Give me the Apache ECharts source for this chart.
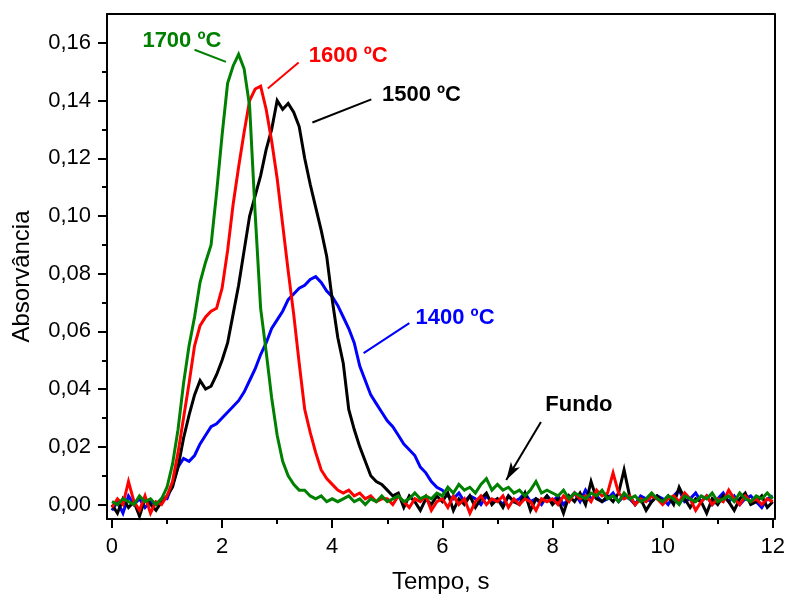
<!DOCTYPE html>
<html>
<head>
<meta charset="utf-8">
<script src="https://cdn.jsdelivr.net/npm/echarts@6/dist/echarts.min.js"></script>
<style>
html,body{margin:0;padding:0;background:#fff;}
#chart{width:788px;height:600px;}
</style>
</head>
<body>
<div id="chart"></div>
<script>
// sampling instants (s)
const times = [
 0.0,0.1,0.2,0.3,0.4,0.5,0.6,0.7,0.8,0.9,
 1.0,1.1,1.2,1.3,1.4,1.5,1.6,1.7,1.8,1.9,
 2.0,2.1,2.2,2.3,2.4,2.5,2.6,2.7,2.8,2.9,
 3.0,3.1,3.2,3.3,3.4,3.5,3.6,3.7,3.8,3.9,
 4.0,4.1,4.2,4.3,4.4,4.5,4.6,4.7,4.8,4.9,
 5.0,5.1,5.2,5.3,5.4,5.5,5.6,5.7,5.8,5.9,
 6.0,6.1,6.2,6.3,6.4,6.5,6.6,6.7,6.8,6.9,
 7.0,7.1,7.2,7.3,7.4,7.5,7.6,7.7,7.8,7.9,
 8.0,8.1,8.2,8.3,8.4,8.5,8.6,8.7,8.8,8.9,
 9.0,9.1,9.2,9.3,9.4,9.5,9.6,9.7,9.8,9.9,
 10.0,10.1,10.2,10.3,10.4,10.5,10.6,10.7,10.8,10.9,
 11.0,11.1,11.2,11.3,11.4,11.5,11.6,11.7,11.8,11.9,
 12.0
];

const abs1400 = [
 -0.002,0.001,-0.003,0.003,0.000,0.002,-0.001,0.001,0.000,0.002,
 0.002,0.007,0.013,0.016,0.015,0.017,0.021,0.024,0.027,0.028,
 0.030,0.032,0.034,0.036,0.039,0.043,0.047,0.052,0.056,0.061,
 0.064,0.067,0.071,0.073,0.075,0.076,0.078,0.079,0.077,0.074,
 0.072,0.069,0.065,0.061,0.056,0.048,0.043,0.038,0.035,0.032,
 0.029,0.027,0.024,0.021,0.019,0.017,0.013,0.011,0.008,0.006,
 0.005,0.003,0.002,0.004,0.001,0.003,0.002,0.000,0.003,0.001,
 0.002,0.000,0.003,0.001,0.002,0.004,0.001,0.002,0.000,0.003,
 0.001,0.003,0.000,0.002,0.004,0.001,0.005,0.002,0.003,0.001,
 0.002,0.004,0.001,0.003,0.002,0.000,0.003,0.002,0.001,0.003,
 0.002,0.000,0.003,0.005,0.001,0.002,0.004,0.001,0.003,0.000,
 0.002,0.004,0.001,0.003,0.000,0.002,0.003,0.001,-0.001,0.002,
 0.003
];

const abs1500 = [
 0.000,-0.003,0.002,-0.001,0.001,-0.004,0.002,0.000,-0.002,0.001,
 0.003,0.006,0.013,0.023,0.031,0.038,0.043,0.040,0.041,0.045,
 0.050,0.056,0.066,0.076,0.088,0.100,0.107,0.114,0.123,0.130,
 0.140,0.137,0.139,0.136,0.131,0.120,0.111,0.103,0.095,0.086,
 0.071,0.058,0.049,0.033,0.026,0.020,0.015,0.010,0.008,0.007,
 0.005,0.003,0.004,-0.001,0.003,0.001,-0.002,0.002,0.000,0.003,
 0.001,0.004,-0.002,0.002,0.000,0.003,-0.001,0.002,0.004,0.000,
 0.002,-0.001,0.003,0.001,0.000,0.004,-0.002,0.002,0.001,0.003,
 0.000,0.002,-0.003,0.003,0.001,0.004,0.000,0.008,0.002,0.001,
 0.003,0.001,0.004,0.012,0.003,0.000,0.002,-0.002,0.001,0.003,
 0.001,0.003,0.000,0.006,0.002,-0.001,0.002,0.001,-0.003,0.002,
 0.000,0.003,0.001,-0.002,0.002,0.004,0.000,0.001,0.003,-0.001,
 0.001
];

const abs1600 = [
 -0.001,0.002,0.000,0.008,0.001,-0.002,0.003,-0.003,0.001,0.000,
 0.003,0.008,0.018,0.030,0.042,0.055,0.062,0.065,0.067,0.068,
 0.075,0.088,0.104,0.117,0.129,0.140,0.144,0.145,0.137,0.126,
 0.113,0.097,0.081,0.066,0.049,0.033,0.025,0.018,0.012,0.009,
 0.007,0.005,0.004,0.005,0.003,0.004,0.002,0.003,0.001,0.002,
 0.002,0.000,0.003,0.001,-0.001,0.002,0.001,0.003,-0.002,0.001,
 0.002,-0.001,0.003,0.000,0.002,-0.003,0.001,0.003,0.000,0.002,
 0.001,0.003,-0.001,0.002,0.000,0.002,0.001,-0.002,0.002,0.001,
 0.002,0.000,0.003,0.001,0.004,0.002,0.003,0.001,0.005,0.003,
 0.004,0.011,0.004,0.002,0.003,0.000,0.002,0.001,0.003,0.002,
 0.000,0.002,0.003,0.001,0.004,0.002,-0.002,0.001,0.003,0.000,
 0.002,0.001,0.005,0.002,0.000,0.003,0.001,0.002,0.000,0.002,
 0.001
];

const abs1700 = [
 0.001,0.000,0.002,0.001,0.000,0.003,0.001,0.002,0.000,0.002,
 0.006,0.014,0.026,0.042,0.055,0.065,0.077,0.084,0.090,0.108,
 0.128,0.146,0.152,0.156,0.151,0.138,0.101,0.068,0.053,0.037,
 0.024,0.015,0.010,0.007,0.005,0.005,0.003,0.002,0.003,0.001,
 0.002,0.001,0.002,0.003,0.001,0.002,0.000,0.002,0.001,0.003,
 0.001,0.002,0.003,0.001,0.002,0.004,0.002,0.003,0.002,0.004,
 0.003,0.006,0.004,0.007,0.005,0.006,0.004,0.007,0.009,0.005,
 0.007,0.005,0.006,0.004,0.005,0.003,0.005,0.008,0.004,0.005,
 0.004,0.003,0.005,0.002,0.004,0.003,0.002,0.004,0.003,0.005,
 0.002,0.003,0.001,0.004,0.002,0.003,0.001,0.002,0.004,0.002,
 0.001,0.003,0.002,0.000,0.003,0.002,0.001,0.003,0.002,0.004,
 0.001,0.002,0.003,0.001,0.004,0.002,0.001,0.003,0.002,0.004,
 0.002
];

const xMajorTicks = [0, 2, 4, 6, 8, 10, 12];
const xMinorTicks = [1, 3, 5, 7, 9, 11];
const yMajorTicks = [0, 0.02, 0.04, 0.06, 0.08, 0.10, 0.12, 0.14, 0.16];
const yMinorTicks = [0.01, 0.03, 0.05, 0.07, 0.09, 0.11, 0.13, 0.15];

// annotations (data coordinates)
const annotTexts = ['1700 ºC', '1600 ºC', '1500 ºC', '1400 ºC', 'Fundo'];
const annotPos = [[1.27, 0.1605], [4.29, 0.1553], [5.62, 0.1421], [6.23, 0.0647], [8.48, 0.0344]];
const annotLeaders = [
  [[1.50, 0.1576], [2.07, 0.1534]],
  [[3.39, 0.1532], [2.83, 0.1442]],
  [[4.71, 0.1404], [3.64, 0.1324]],
  [[5.40, 0.0629], [4.57, 0.0525]],
  [[7.79, 0.0286], [7.16, 0.0085]]
];
const annotColors = ['#008000', '#ff0000', '#000000', '#0000ff', '#000000'];

const FONT = 'Liberation Sans, Arial, sans-serif';
const X_MIN = -0.09, X_MAX = 12.03, Y_MIN = -0.005, Y_MAX = 0.170;

function pairs(ys) { return times.map((t, i) => [t, ys[i]]); }

const curves = [
  { name: '1400', data: abs1400, color: '#0000ff' },
  { name: '1500', data: abs1500, color: '#000000' },
  { name: '1600', data: abs1600, color: '#ff0000' },
  { name: '1700', data: abs1700, color: '#008000' }
];

const series = curves.map(c => ({
  name: c.name,
  type: 'line',
  xAxisIndex: 0, yAxisIndex: 0,
  data: pairs(c.data),
  showSymbol: false,
  symbol: 'none',
  lineStyle: { color: c.color, width: 3, join: 'miter' },
  itemStyle: { color: c.color },
  z: 2
}));

annotTexts.forEach((txt, i) => {
  series.push({
    type: 'scatter',
    xAxisIndex: 0, yAxisIndex: 0,
    symbolSize: 0,
    silent: true,
    itemStyle: { color: annotColors[i], opacity: 1 },
    data: [annotPos[i]],
    label: {
      show: true, position: 'inside', formatter: txt,
      color: annotColors[i], textBorderWidth: 0, textBorderColor: 'transparent',
      fontFamily: FONT, fontWeight: 'bold', fontSize: 22
    },
    markLine: {
      silent: true,
      symbol: i === 4 ? ['none', 'arrow'] : ['none', 'none'],
      symbolSize: [8, 18],
      label: { show: false },
      lineStyle: { color: annotColors[i], width: 2, type: 'solid' },
      emphasis: { disabled: true },
      data: [[{ coord: annotLeaders[i][0] }, { coord: annotLeaders[i][1] }]]
    },
    z: 5
  });
});

const axisLineStyle = { lineStyle: { color: '#000', width: 2 } };

const option = {
  animation: false,
  backgroundColor: '#fff',
  grid: { left: 107, top: 14, right: 12, bottom: 81, containLabel: false },
  xAxis: [
    {
      type: 'value', position: 'bottom', min: X_MIN, max: X_MAX,
      axisLine: { show: true, onZero: false, ...axisLineStyle },
      axisTick: { show: true, customValues: xMajorTicks, length: 9, lineStyle: { color: '#000', width: 2 } },
      axisLabel: { show: true, customValues: xMajorTicks, margin: 17, color: '#000', fontFamily: FONT, fontSize: 22,
        formatter: v => String(Math.round(v)) },
      splitLine: { show: false },
      name: 'Tempo, s', nameLocation: 'middle', nameGap: 51,
      nameTextStyle: { color: '#000', fontFamily: FONT, fontSize: 24 }
    },
    {
      type: 'value', position: 'bottom', min: X_MIN, max: X_MAX,
      axisLine: { show: false, onZero: false },
      axisTick: { show: true, customValues: xMinorTicks, length: 5, lineStyle: { color: '#000', width: 2 } },
      axisLabel: { show: false },
      splitLine: { show: false }
    },
    {
      type: 'value', position: 'top', min: X_MIN, max: X_MAX,
      axisLine: { show: true, onZero: false, ...axisLineStyle },
      axisTick: { show: false }, axisLabel: { show: false }, splitLine: { show: false }
    }
  ],
  yAxis: [
    {
      type: 'value', position: 'left', min: Y_MIN, max: Y_MAX,
      axisLine: { show: true, onZero: false, ...axisLineStyle },
      axisTick: { show: true, customValues: yMajorTicks, length: 9, lineStyle: { color: '#000', width: 2 } },
      axisLabel: { show: true, customValues: yMajorTicks, margin: 16, color: '#000', fontFamily: FONT, fontSize: 22,
        formatter: v => v.toFixed(2).replace('.', ',') },
      splitLine: { show: false },
      name: 'Absorvância', nameLocation: 'middle', nameGap: 73, nameRotate: 90,
      nameTextStyle: { color: '#000', fontFamily: FONT, fontSize: 24, padding: [0, 20, 0, 0] }
    },
    {
      type: 'value', position: 'left', min: Y_MIN, max: Y_MAX,
      axisLine: { show: false, onZero: false },
      axisTick: { show: true, customValues: yMinorTicks, length: 5, lineStyle: { color: '#000', width: 2 } },
      axisLabel: { show: false },
      splitLine: { show: false }
    },
    {
      type: 'value', position: 'right', min: Y_MIN, max: Y_MAX,
      axisLine: { show: true, onZero: false, ...axisLineStyle },
      axisTick: { show: false }, axisLabel: { show: false }, splitLine: { show: false }
    }
  ],
  series: series
};

const chart = echarts.init(document.getElementById('chart'), null, { renderer: 'canvas' });
chart.setOption(option);
</script>
</body>
</html>
